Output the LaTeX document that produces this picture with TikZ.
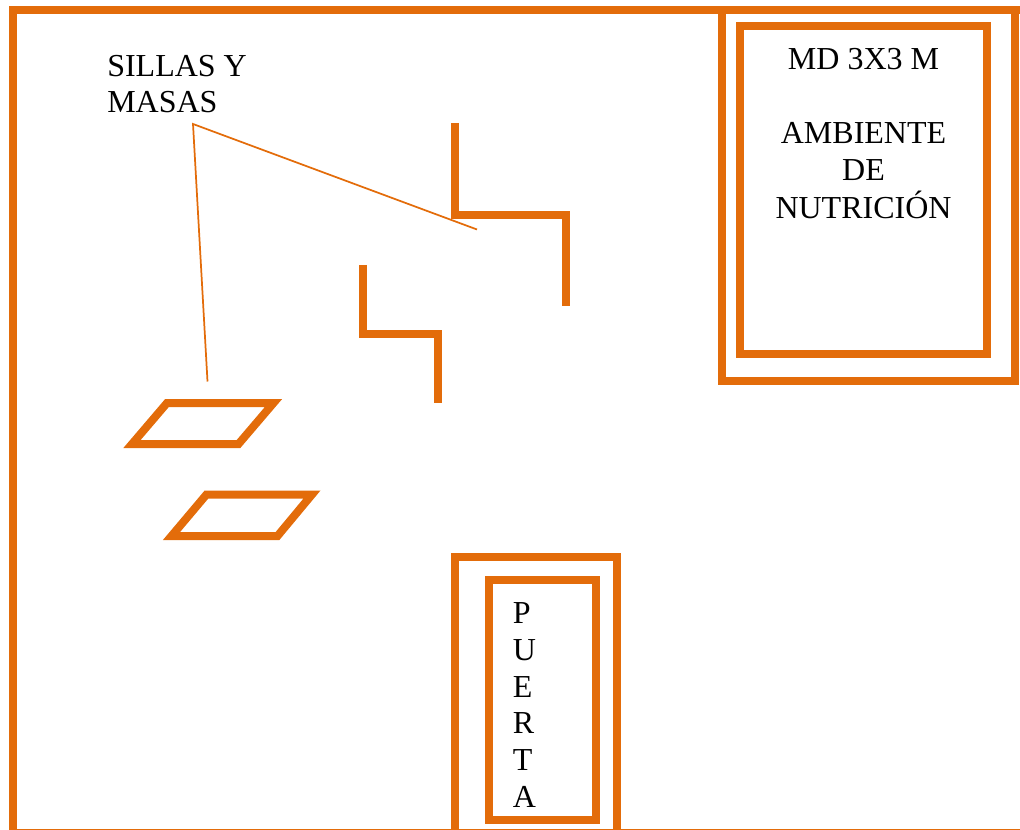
\documentclass[tikz,border=0pt]{standalone}
\usepackage[RGB]{xcolor}
\usepackage{fontspec}
\setmainfont{Liberation Serif}
\definecolor{wall}{RGB}{227,108,10}
\newcommand{\drawthick}{\draw[wall,line width=6pt]}
\newcommand{\drawthin}{\draw[wall,line width=1.3pt]}
\newcommand{\roomtext}[4]{\node[anchor=base] (#1) at (#3,#4) {\fontsize{24}{24}\selectfont #2};}
\newcommand{\lefttext}[4]{\node[anchor=base west,inner sep=0pt] (#1) at (#3,#4) {\fontsize{24}{24}\selectfont #2};}
\begin{document}
\begin{tikzpicture}[x=0.75pt,y=-0.75pt]
\useasboundingbox (0,0) rectangle (1020,830);
\clip (0,0) rectangle (1020,830);
\drawthick (13,10)--++(1011,0)--++(0,823)--++(-1011,0)--cycle;
    % nutricion
    \drawthick (722,10)--++(0,371)--++(292.5,0)--++(0,-371);
    \drawthick (740,26)--++(247,0)--++(0,328)--++(-247,0)--cycle;
    % puerta
    \drawthick (455,836)--++(0,-279)--++(162,0)--++(0,279);
    \drawthick (489,580)--++(107,0)--++(0,240)--++(-107,0)--cycle;
    % mesas
    \drawthick (454.5,123)--++(0,92)--++(111.5,0)--++(0,91.5);
    \drawthick (363,265)--++(0,69)--++(75,0)--++(0,68.5);
    \drawthick (167,403)--++(106.5,0)--++(-35,41)--++(-106.5,0)--cycle;
    \drawthick (206.5,494.5)--++(105.5,0)--++(-34.5,41.5)--++(-106,0)--cycle;
\lefttext{sillas}{SILLAS Y}{107}{77}\lefttext{masas}{MASAS}{107}{113}
\coordinate (apex) at (193,124);
\coordinate (tableend) at (477,229.5);
\coordinate (chairend) at (207.5,381.5);
\drawthin (tableend)--(apex)--(chairend);
\roomtext{medida}{MD 3X3 M}{863.5}{70}\roomtext{ambiente}{AMBIENTE}{863.5}{143.5}\roomtext{de}{DE}{863.5}{180.5}\roomtext{nutricion}{NUTRICIÓN}{863.5}{218.5}
\lefttext{p}{P}{512.5}{623.5}\lefttext{u}{U}{512.5}{660}\lefttext{e}{E}{512.5}{697}\lefttext{r}{R}{512.5}{733.5}\lefttext{t}{T}{512.5}{770.5}\lefttext{a}{A}{512.5}{807}
\end{tikzpicture}
\end{document}
